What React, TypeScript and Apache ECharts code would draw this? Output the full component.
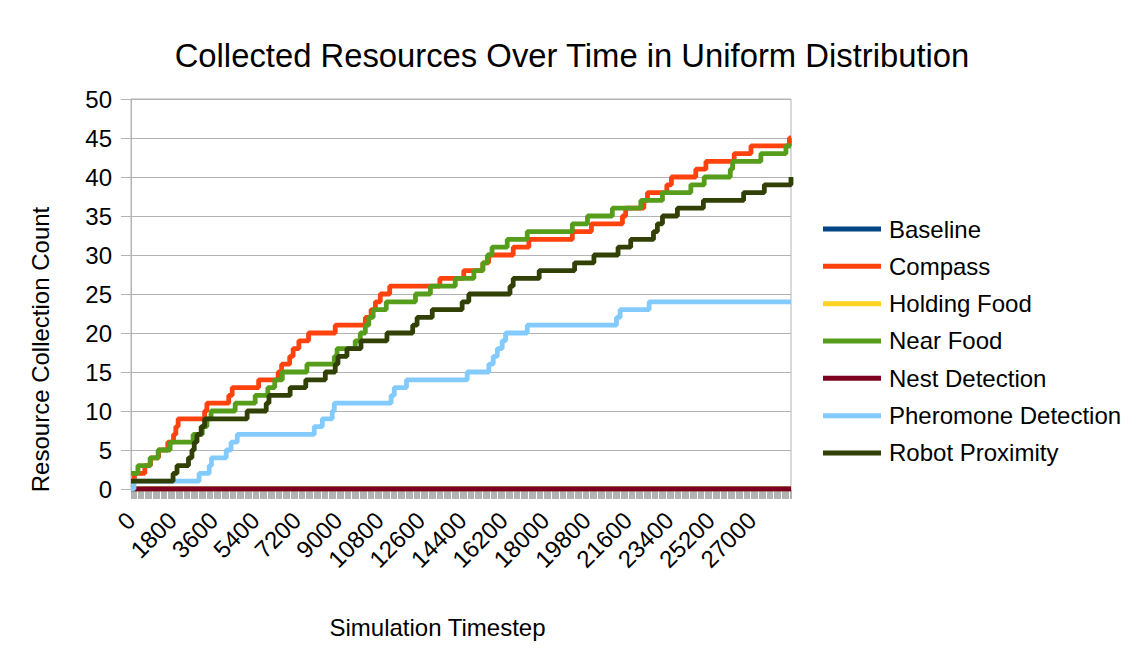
import React, { useEffect, useRef } from 'react';
import * as echarts from 'echarts';

const FONT = '"Liberation Sans", Arial, sans-serif';
const TITLE = 'Collected Resources Over Time in Uniform Distribution';
const X_NAME = 'Simulation Timestep';
const Y_NAME = 'Resource Collection Count';

const seriesNames = [
  'Baseline',
  'Compass',
  'Holding Food',
  'Near Food',
  'Nest Detection',
  'Pheromone Detection',
  'Robot Proximity',
];
const seriesColors = ['#004586', '#ff420e', '#ffd320', '#579d1c', '#7e0021', '#83caff', '#314004'];

// x axis: timesteps, labelled every 1800
const X_MIN = 0;
const X_MAX = 28700;
const X_LABEL_STEP = 1800;
const Y_MIN = 0;
const Y_MAX = 50;
const Y_STEP = 5;

// [timestep, count] at each change of the count
const baseline = [[0, 0], [28700, 0]];
const compass = [
  [0, 1], [150, 2], [600, 3], [850, 4], [1200, 5], [1600, 6], [1850, 7], [1950, 8], [2050, 9],
  [3200, 10], [3300, 11], [4250, 12], [4400, 13], [5550, 14], [6400, 15], [6550, 16], [6900, 17],
  [7050, 18], [7300, 19], [7720, 20], [8880, 21], [10190, 22], [10440, 23], [10630, 24], [10840, 25],
  [11250, 26], [13430, 27], [14470, 28], [15300, 29], [15550, 30], [16620, 31], [17300, 32],
  [19190, 33], [20020, 34], [21370, 35], [21510, 36], [22300, 37], [22460, 38], [23300, 39],
  [23500, 40], [24560, 41], [25000, 42], [26230, 43], [26960, 44], [28630, 45], [28700, 45],
];
const holdingFood = [[0, 0], [28700, 0]];
const nearFood = [
  [0, 2], [300, 3], [830, 4], [1180, 5], [1700, 6], [2700, 7], [3100, 8], [3300, 9], [3480, 10],
  [4530, 11], [5400, 12], [5950, 13], [6250, 14], [6580, 15], [7650, 16], [8840, 17], [8960, 18],
  [9750, 19], [9970, 20], [10190, 21], [10340, 22], [10530, 23], [11100, 24], [12370, 25],
  [13020, 26], [14100, 27], [14910, 28], [15300, 29], [15500, 30], [15700, 31], [16360, 32],
  [17230, 33], [19190, 34], [19850, 35], [20930, 36], [22170, 37], [23110, 38], [24345, 39],
  [24925, 40], [26060, 41], [26160, 42], [27390, 43], [28480, 44], [28700, 44],
];
const nestDetection = [[0, 0], [28700, 0]];
const pheromoneDetection = [
  [0, 0], [130, 1], [2960, 2], [3400, 3], [3500, 4], [4140, 5], [4350, 6], [4620, 7], [7970, 8],
  [8320, 9], [8750, 10], [8840, 11], [11310, 12], [11450, 13], [11980, 14], [14620, 15],
  [15560, 16], [15750, 17], [15930, 18], [16140, 19], [16290, 20], [17230, 21], [21110, 22],
  [21270, 23], [22530, 24], [28700, 24],
];
const robotProximity = [
  [0, 1], [1830, 2], [2000, 3], [2500, 4], [2650, 5], [2750, 6], [2870, 7], [3050, 8], [3200, 9],
  [5050, 10], [5880, 11], [6000, 12], [6920, 13], [7600, 14], [8450, 15], [8880, 16], [9000, 17],
  [9390, 18], [10000, 19], [11130, 20], [12250, 21], [12440, 22], [13100, 23], [14400, 24],
  [14690, 25], [16480, 26], [16620, 27], [17750, 28], [19290, 29], [20130, 30], [21180, 31],
  [21730, 32], [22720, 33], [22890, 34], [23110, 35], [23760, 36], [24890, 37], [26640, 38],
  [27540, 39], [28700, 40],
];

const seriesData = [baseline, compass, holdingFood, nearFood, nestDetection, pheromoneDetection, robotProximity];

const GRAY = '#b3b3b3';

export default function App() {
  const ref = useRef<HTMLDivElement>(null);

  useEffect(() => {
    if (!ref.current) return;
    const chart = echarts.init(ref.current, null, { renderer: 'svg' });
    chart.setOption({
      animation: false,
      backgroundColor: '#ffffff',
      textStyle: { fontFamily: FONT },
      title: {
        text: TITLE,
        left: 'center',
        top: 38.5,
        padding: [0, 6, 0, 0],
        textStyle: { fontSize: 32.8, fontWeight: 'normal', color: '#000', fontFamily: FONT },
      },
      legend: {
        orient: 'vertical',
        left: 823,
        top: 217,
        padding: 0,
        itemWidth: 58,
        itemHeight: 5,
        itemGap: 13.33,
        icon: 'rect',
        data: seriesNames,
        textStyle: { fontSize: 24, lineHeight: 24, color: '#000', fontFamily: FONT, padding: [0, 0, 0, 3] },
      },
      grid: {
        left: 131,
        right: 353,
        top: 99,
        bottom: 175,
        show: true,
        borderColor: GRAY,
        borderWidth: 1,
        backgroundColor: 'transparent',
      },
      xAxis: {
        type: 'value',
        min: X_MIN,
        max: X_MAX,
        interval: X_LABEL_STEP,
        axisLine: { show: true, lineStyle: { color: GRAY } },
        axisTick: { show: true, length: 10, lineStyle: { color: GRAY } },
        minorTick: { show: true, splitNumber: 36, length: 10, lineStyle: { color: GRAY } },
        splitLine: { show: false },
        minorSplitLine: { show: false },
        axisLabel: {
          rotate: 45,
          fontSize: 24,
          color: '#000',
          fontFamily: FONT,
          margin: 27,
          formatter: (v: number) => (v % X_LABEL_STEP === 0 ? String(v) : ''),
        },
      },
      yAxis: {
        type: 'value',
        min: Y_MIN,
        max: Y_MAX,
        interval: Y_STEP,
        axisLine: { show: true, lineStyle: { color: GRAY } },
        axisTick: { show: true, length: 10, lineStyle: { color: GRAY } },
        splitLine: { show: true, lineStyle: { color: GRAY, width: 1 } },
        axisLabel: { fontSize: 24, color: '#000', fontFamily: FONT, margin: 19 },
      },
      graphic: [
        {
          type: 'text',
          x: 40,
          y: 349.5,
          rotation: Math.PI / 2,
          style: {
            text: Y_NAME,
            fill: '#000',
            font: `24px ${FONT}`,
            textAlign: 'center',
            textVerticalAlign: 'middle',
            align: 'center',
            verticalAlign: 'middle',
          },
        },
        {
          type: 'text',
          x: 437.5,
          y: 627,
          style: {
            text: X_NAME,
            fill: '#000',
            font: `24px ${FONT}`,
            textAlign: 'center',
            textVerticalAlign: 'middle',
            align: 'center',
            verticalAlign: 'middle',
          },
        },
      ],
      series: seriesNames.map((name, i) => ({
        name,
        type: 'line',
        step: 'end',
        data: seriesData[i],
        showSymbol: false,
        symbol: 'none',
        color: seriesColors[i],
        lineStyle: { width: 4.8, color: seriesColors[i] },
        emphasis: { disabled: true },
      })),
    });
    return () => chart.dispose();
  }, []);

  return (
    <div
      ref={ref}
      style={{ position: 'fixed', left: 0, top: 0, width: 1144, height: 664, background: '#fff' }}
    />
  );
}
